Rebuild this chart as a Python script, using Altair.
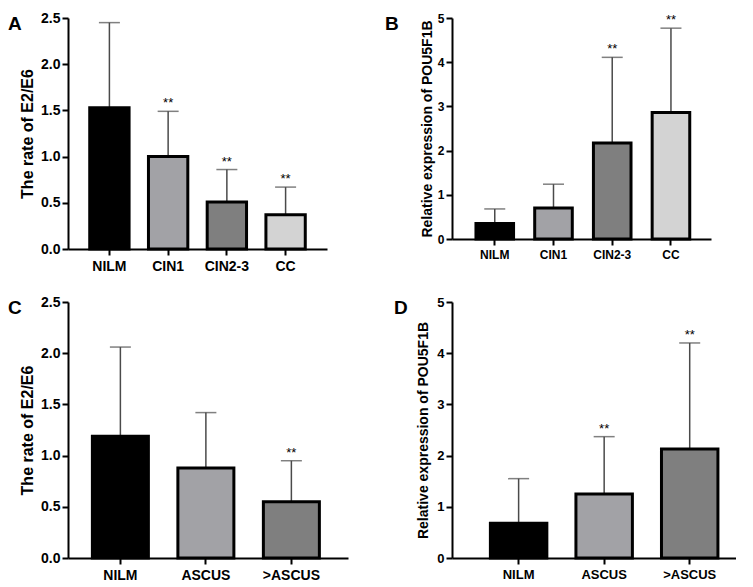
import altair as alt
import pandas as pd

# ---- data ----
cats_top = ["NILM", "CIN1", "CIN2-3", "CC"]
e2e6_top = [1.53, 1.00, 0.51, 0.37]
e2e6_top_err = [2.45, 1.49, 0.86, 0.67]
e2e6_top_sig = ["", "**", "**", "**"]

pou_top = [0.35, 0.70, 2.17, 2.86]
pou_top_err = [0.68, 1.24, 4.11, 4.77]
pou_top_sig = ["", "", "**", "**"]

cats_bot = ["NILM", "ASCUS", ">ASCUS"]
e2e6_bot = [1.19, 0.88, 0.55]
e2e6_bot_err = [2.06, 1.42, 0.95]
e2e6_bot_sig = ["", "", "**"]

pou_bot = [0.68, 1.25, 2.13]
pou_bot_err = [1.55, 2.37, 4.20]
pou_bot_sig = ["", "**", "**"]

colors_top = ["#000000", "#A2A2A6", "#7F7F7F", "#D3D3D3"]
colors_bot = ["#000000", "#A2A2A6", "#7F7F7F"]

FONT = "Liberation Sans"


def panel(cats, vals, errs, sigs, colors, ymax, yticks, yfmt, ytitle, letter,
          width, height, pi, po, align, label_size, title_size, title_pad,
          letter_x):
    df = pd.DataFrame({"cat": cats, "val": vals, "err": errs, "sig": sigs})
    base = alt.Chart(df)
    xenc = alt.X(
        "cat:N", sort=cats,
        scale=alt.Scale(paddingInner=pi, paddingOuter=po, align=align),
        axis=alt.Axis(title=None, labelAngle=0, labelFontSize=label_size,
                      labelPadding=4),
    )
    yscale = alt.Scale(domain=[0, ymax], nice=False)
    yaxis = alt.Axis(values=yticks, format=yfmt, labelFontSize=label_size,
                     titleFontSize=title_size, titlePadding=title_pad,
                     labelPadding=2)
    rule = base.mark_rule(color="#4A4A4A", strokeWidth=1.5).encode(
        x=xenc,
        y=alt.Y("val:Q", scale=yscale, axis=yaxis, title=ytitle),
        y2="err:Q",
    )
    cap = base.mark_tick(color="#4A4A4A", thickness=1.5, size=21).encode(
        x=xenc, y=alt.Y("err:Q", scale=yscale, title=ytitle)
    )
    bars = base.mark_bar(stroke="black", strokeWidth=3).encode(
        x=xenc,
        y=alt.Y("val:Q", scale=yscale, title=ytitle, stack=None),
        color=alt.Color("cat:N", scale=alt.Scale(domain=cats, range=colors),
                        legend=None),
    )
    stars = base.mark_text(dy=-4, fontSize=13, font=FONT, color="black",
                           baseline="alphabetic").encode(
        x=xenc, y=alt.Y("err:Q", scale=yscale, title=ytitle), text="sig:N"
    )
    lab = alt.Chart(pd.DataFrame({"t": [letter]})).mark_text(
        font=FONT, fontSize=19, fontWeight="bold", align="left",
        baseline="alphabetic", color="black"
    ).encode(x=alt.value(letter_x), y=alt.value(12), text="t:N")
    return alt.layer(rule, cap, bars, stars, lab).properties(
        width=width, height=height
    )


A = panel(cats_top, e2e6_top, e2e6_top_err, e2e6_top_sig, colors_top, 2.5,
          [0, 0.5, 1.0, 1.5, 2.0, 2.5], ".1f", "The rate of E2/E6", "A",
          259, 231, 0.33, 0.37, 0.5, 14, 16, 5, -60)
B = panel(cats_top, pou_top, pou_top_err, pou_top_sig, colors_top, 5,
          [0, 1, 2, 3, 4, 5], "d", "Relative expression of POU5F1B", "B",
          259, 221, 0.36, 0.385, 0.53, 12, 14, 3, -67)
C = panel(cats_bot, e2e6_bot, e2e6_bot_err, e2e6_bot_sig, colors_bot, 2.5,
          [0, 0.5, 1.0, 1.5, 2.0, 2.5], ".1f", "The rate of E2/E6", "C",
          280, 256, 0.345, 0.31, 0.46, 14, 16, 5, -60)
D = panel(cats_bot, pou_bot, pou_bot_err, pou_bot_sig, colors_bot, 5,
          [0, 1, 2, 3, 4, 5], "d", "Relative expression of POU5F1B", "D",
          284, 256, 0.34, 0.33, 0.68, 13, 14, 6, -58)

chart = alt.concat(
    A, B, C, D, columns=2, spacing={"row": 53, "column": 104}, bounds="flush"
).resolve_scale(color="independent").properties(padding=0).configure_view(
    stroke=None
).configure_axis(
    grid=False, domainColor="black", domainWidth=2, tickColor="black",
    tickWidth=2, tickSize=6, labelFont=FONT, titleFont=FONT,
    labelFontWeight="bold", titleFontWeight="bold", labelColor="black",
    titleColor="black"
)

chart.save("out.html", embed_options={"renderer": "svg", "actions": False})
